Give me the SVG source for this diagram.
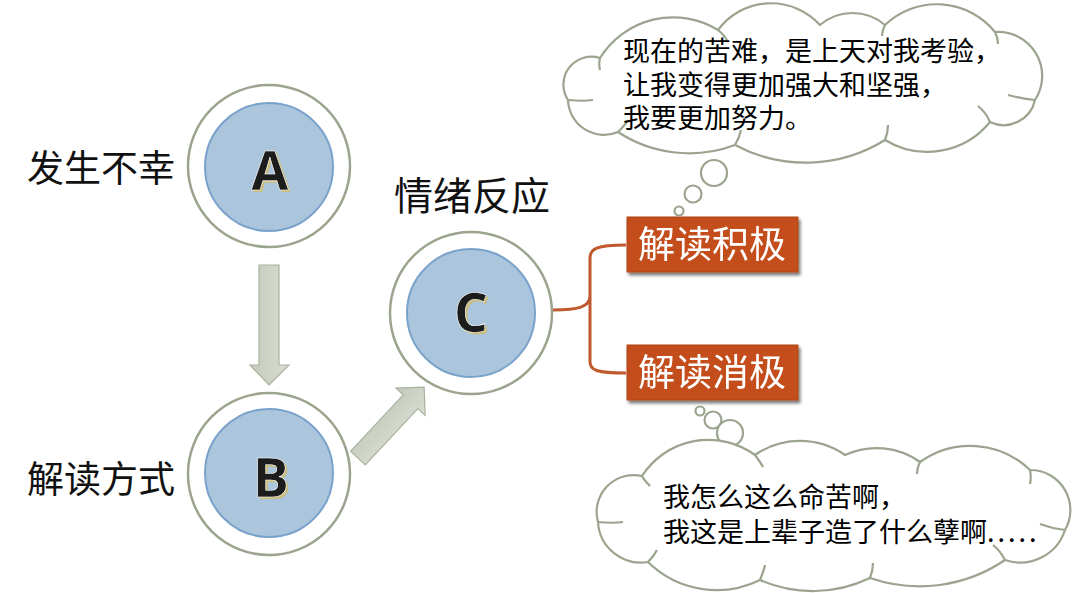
<svg xmlns="http://www.w3.org/2000/svg" width="1080" height="593" viewBox="0 0 1080 593">
<defs>
<linearGradient id="arrowGrad" x1="0" y1="0" x2="1" y2="0">
<stop offset="0" stop-color="#c3cabb"/>
<stop offset="1" stop-color="#d9ddd3"/>
</linearGradient>
<linearGradient id="arrowGrad2" x1="0" y1="0" x2="0" y2="1">
<stop offset="0" stop-color="#c3cabb"/>
<stop offset="1" stop-color="#d9ddd3"/>
</linearGradient>
<filter id="boxShadow" x="-10%" y="-20%" width="130%" height="150%">
<feGaussianBlur in="SourceAlpha" stdDeviation="1.5"/>
<feOffset dx="2" dy="3" result="b"/>
<feComponentTransfer><feFuncA type="linear" slope="0.5"/></feComponentTransfer>
<feMerge><feMergeNode/><feMergeNode in="SourceGraphic"/></feMerge>
</filter>
</defs>
<style>
.outer{fill:#ffffff;stroke:#9ba48e;stroke-width:2.5}
.inner{fill:#abc5dc;stroke:#7aa3cb;stroke-width:2}
.letter{font-family:"Open Sans","Liberation Sans",sans-serif;font-weight:bold;font-size:54px;text-anchor:middle}
.lshadow{fill:#cbbd78}
.lmain{fill:#1c1c1c;stroke:#ffffff;stroke-width:0.6}
.label{font-family:"Noto Sans CJK SC",sans-serif;font-size:37px;fill:#111111}
.cloud{fill:#ffffff;stroke:#9ba48e;stroke-width:2.2}
.frag{fill:none;stroke:#9ba48e;stroke-width:2.2}
.ctext{font-family:"Noto Sans CJK SC",sans-serif;font-size:27px;fill:#000000}
.box{fill:#c44e1d;stroke:#b04417;stroke-width:1}
.btext{font-family:"Noto Sans CJK SC",sans-serif;font-size:37px;fill:#ffffff;text-anchor:middle}
.brace{fill:none;stroke:#c1592e;stroke-width:3}
.arrow{stroke:#a9b29f;stroke-width:1.2}
</style>

<g id="connectors">
<path class="arrow" fill="url(#arrowGrad)" d="M259,265 L279,265 L279,365 L289,365 L269,385 L250,365 L259,365 Z"/>
<path class="arrow" fill="url(#arrowGrad2)" transform="translate(358,458) rotate(-47)" d="M0,-10 L77,-10 L77,-20 L97,0 L77,20 L77,10 L0,10 Z"/>
<path class="brace" d="M553,310 C578,310 590,307 590,296 L590,258 C590,249 596,245 626,245 M590,296 C590,312 590,318 590,322 L590,362 C590,370 596,373 626,373"/>
</g>

<g id="nodeA">
<circle class="outer" cx="269" cy="166" r="81"/>
<circle class="inner" cx="269" cy="167" r="64"/>
<text class="letter lshadow" x="272" y="192">A</text>
<text class="letter lmain" x="270" y="190">A</text>
</g>
<g id="labelA"><text class="label" x="27" y="182">发生不幸</text></g>

<g id="nodeB">
<circle class="outer" cx="269" cy="474" r="81"/>
<circle class="inner" cx="269" cy="473" r="64"/>
<text class="letter lshadow" x="273" y="499">B</text>
<text class="letter lmain" x="271" y="497">B</text>
</g>
<g id="labelB"><text class="label" x="27" y="493">解读方式</text></g>

<g id="nodeC">
<circle class="outer" cx="471" cy="313" r="81"/>
<circle class="inner" cx="471" cy="313" r="64"/>
<text class="letter lshadow" x="473" y="334">C</text>
<text class="letter lmain" x="471" y="332">C</text>
</g>
<g id="labelC"><text class="label" x="394" y="210" style="font-size:39px">情绪反应</text></g>

<g id="boxPositive" filter="url(#boxShadow)">
<rect class="box" x="627" y="217" width="171" height="55"/>
<text class="btext" x="712" y="258">解读积极</text>
</g>
<g id="boxNegative" filter="url(#boxShadow)">
<rect class="box" x="627" y="345" width="171" height="55"/>
<text class="btext" x="712" y="386">解读消极</text>
</g>

<g id="cloudTop">
<circle class="cloud" cx="679" cy="211" r="4.5"/>
<circle class="cloud" cx="693" cy="194" r="8.5"/>
<circle class="cloud" cx="714" cy="173" r="13"/>
<path class="cloud" d="M568,100 A28,28 0 0 1 600,58 A86,86 0 0 1 718,30 A66,66 0 0 1 820,25 A50,50 0 0 1 885,25 A75,75 0 0 1 995,32 A44,44 0 0 1 1035,100 A32,32 0 0 1 990,122 A81,81 0 0 1 885,140 A150,150 0 0 1 735,145 A130,130 0 0 1 618,132 A36,36 0 0 1 568,100 Z"/>
<path class="frag" d="M600,58 C599,62 599,66 600,70 M718,30 C723,34 726,38 728,42 M885,25 C883,29 882,32 882,36 M995,32 C997,36 998,40 998,44 M1035,100 C1025,99 1016,97 1008,95 M990,122 C987,115 983,110 978,106 M885,140 C887,135 888,130 888,125 M735,145 C738,140 740,135 741,130 M618,132 C622,128 626,124 628,120 M568,100 C578,101 586,101 593,100"/>
<text class="ctext" x="623" y="61">现在的苦难，是上天对我考验，</text>
<text class="ctext" x="623" y="95">让我变得更加强大和坚强，</text>
<text class="ctext" x="623" y="128">我要更加努力。</text>
</g>

<g id="cloudBottom">
<circle class="cloud" cx="700" cy="411" r="4.5"/>
<circle class="cloud" cx="713" cy="420" r="8.5"/>
<circle class="cloud" cx="730" cy="433" r="13"/>
<path class="cloud" d="M598,522 A37,37 0 0 1 642,476 A79,79 0 0 1 755,455 A79,79 0 0 1 845,455 A75,75 0 0 1 920,462 A86,86 0 0 1 1030,470 A40,40 0 0 1 1065,530 A47,47 0 0 1 1005,560 A152,152 0 0 1 870,578 A132,132 0 0 1 760,580 A98,98 0 0 1 648,562 A43,43 0 0 1 598,522 Z"/>
<path class="frag" d="M642,476 C644,480 647,483 650,486 M755,455 C758,459 761,463 763,467 M920,462 C918,466 917,470 917,474 M1030,470 C1031,475 1031,479 1030,484 M1065,530 C1056,529 1048,527 1040,524 M1005,560 C1002,554 998,549 993,545 M870,578 C872,573 873,568 873,563 M760,580 C762,575 764,570 765,565 M648,562 C652,558 655,554 657,550 M598,522 C608,523 616,523 623,522"/>
<text class="ctext" x="663" y="507">我怎么这么命苦啊，</text>
<text class="ctext" x="663" y="542">我这是上辈子造了什么孽啊<tspan letter-spacing="3">.....</tspan></text>
</g>
</svg>
